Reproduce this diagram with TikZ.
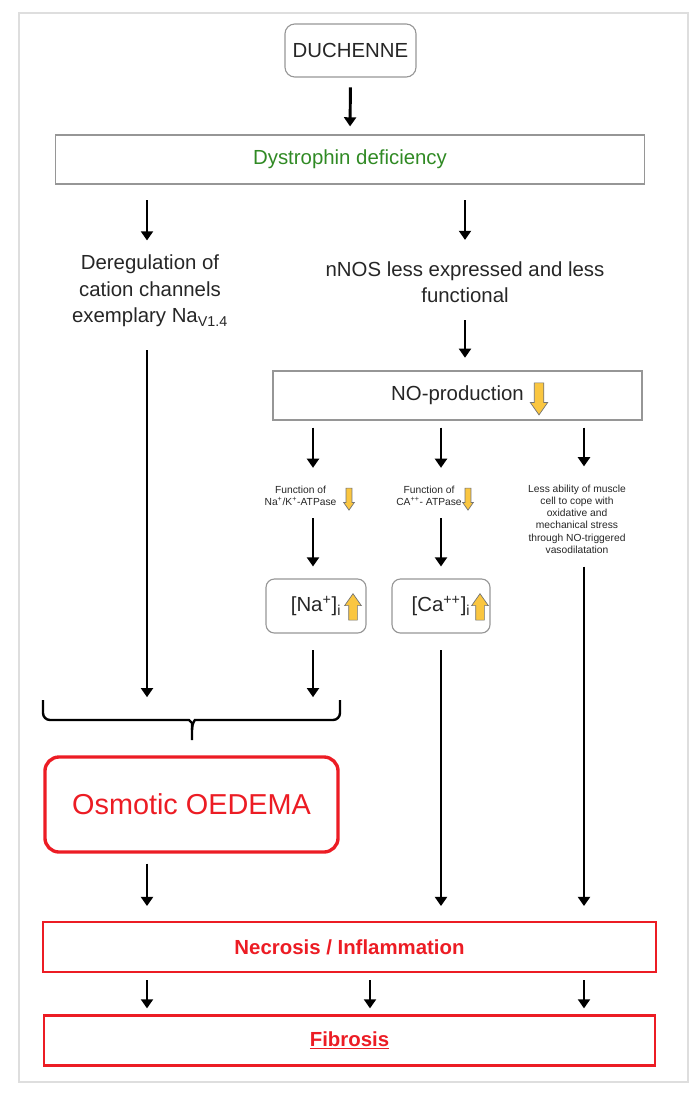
\documentclass[tikz,border=0pt]{standalone}
\usepackage{fontspec}
\setmainfont{Liberation Sans}
\usetikzlibrary{arrows.meta,shapes.arrows}

\definecolor{framegray}{RGB}{222,222,222}
\definecolor{boxgray}{RGB}{150,150,150}
\definecolor{dysgreen}{RGB}{48,138,36}
\definecolor{oedred}{RGB}{236,28,36}
\definecolor{arryellow}{RGB}{250,198,64}
\newcommand{\mainsize}{\fontsize{14.5}{19}\selectfont}
\newcommand{\smallsize}{\fontsize{7.3}{8.7}\selectfont}

\begin{document}
\begin{tikzpicture}[x=0.025cm, y=0.025cm]
\tikzstyle{every node}+=[inner sep=0pt, text=black!85]
\tikzstyle{greybox}=[draw=boxgray, line width=0.8pt]
\tikzstyle{redbox}=[draw=oedred, line width=1.5pt, text=oedred, minimum height=1.25cm]
\tikzstyle{arr}=[-{Triangle[width=8.5pt,length=6.5pt]}, line width=2.1pt]
\tikzstyle{bigdown}=[single arrow, draw=black!55, fill=arryellow, line width=0.5pt, shape border rotate=270, minimum height=0.8cm, inner ysep=0pt, inner xsep=0.11cm, single arrow head extend=0.1cm, single arrow tip angle=70]
\tikzstyle{bigup}=[bigdown, shape border rotate=90, minimum height=0.66cm, inner xsep=0.1cm]
\tikzstyle{smalldown}=[bigdown, minimum height=0.55cm, inner xsep=0.065cm, single arrow head extend=0.06cm]
\useasboundingbox (0,0) rectangle (697,-1099);
\draw [framegray, line width=0.8pt] (19,-13) rectangle (688,-1082);
\coordinate (c1) at (147,0);
\coordinate (c2) at (313,0);
\coordinate (c3) at (441,0);
\coordinate (c4) at (584,0);
\coordinate (c5) at (370,0);
\node [greybox, rounded corners=7pt, minimum width=3.275cm, minimum height=1.325cm, font=\mainsize] (duch) at (350.5,-50.5) {DUCHENNE};
\node [greybox, minimum width=14.7cm, minimum height=1.225cm, font=\mainsize, text=dysgreen] (dys) at (350,-159.5) {Dystrophin deficiency};
\node [font=\mainsize, align=center] (dereg) at (150,-291) {Deregulation of\\cation channels\\exemplary Na\textsubscript{V1.4}};
\node [font=\fontsize{14.5}{18.5}\selectfont, align=center] (nnos) at (465,-282.5) {nNOS less expressed and less\\functional};
\node [greybox, minimum width=9.225cm, minimum height=1.225cm, font=\mainsize] (noprod) at (457.5,-395.5) {NO-production};
\node [bigdown] (noarr) at (539,-395.5) {};
\node [font=\smallsize, align=center] (fnak) at (300.5,-496) {Function of\\Na\textsuperscript{+}/K\textsuperscript{+}-ATPase};
\node [smalldown] (nakarr) at (349,-497) {};
\node [font=\smallsize, align=center] (fca) at (429,-496) {Function of\\CA\textsuperscript{++}- ATPase};
\node [smalldown] (caarr) at (468,-497) {};
\node [font=\smallsize, align=center] (lessab) at (577,-519) {Less ability of muscle\\cell to cope with\\oxidative and\\mechanical stress\\through NO-triggered\\vasodilatation};
\node [greybox, rounded corners=6pt, minimum width=2.5cm, minimum height=1.35cm, font=\mainsize] (nabox) at (316,-606) {[Na\textsuperscript{+}]\textsubscript{i}\hspace{5mm}};
\node [bigup] (naup) at (353,-610) {};
\node [greybox, rounded corners=6pt, minimum width=2.45cm, minimum height=1.35cm, font=\mainsize] (cabox) at (441,-606) {[Ca\textsuperscript{++}]\textsubscript{i}\hspace{5mm}};
\node [bigup] (caup) at (480,-610) {};
\coordinate (brl) at (43,-700);
\coordinate (brr) at (340,-700);
\coordinate (brm) at (192,-740);
\draw [line width=1.7pt, rounded corners=5pt] (brl) -- (43,-720) -- (182,-720) .. controls (189,-720) and (192,-723) .. (192,-730) -- (brm);
\draw [line width=1.7pt, rounded corners=5pt] (brr) -- (340,-720) -- (202,-720) .. controls (195,-720) and (192,-723) .. (192,-730);
\node [draw=oedred, line width=2.4pt, rounded corners=10pt, minimum width=7.325cm, minimum height=2.375cm, text=oedred, font=\fontsize{20.5}{24}\selectfont] (osm) at (191.5,-804.5) {Osmotic OEDEMA};
\node [redbox, minimum width=15.325cm, font=\mainsize\bfseries] (necr) at (349.5,-947) {Necrosis / Inflammation};
\node [redbox, minimum width=15.25cm, font=\mainsize\bfseries] (fib) at (349.5,-1040.5) {\underline{Fibrosis}};
\draw [arr, shorten <=7pt, shorten >=5.7pt] (duch.south) -- (dys.north);
\draw [arr, shorten <=11pt, shorten >=10pt] (dys.south -| c1) -- (dereg.north -| c1);
\draw [arr, shorten <=11pt, shorten >=15.5pt] (dys.south -| nnos) -- (nnos.north);
\draw [arr, shorten <=12pt, shorten >=9pt] (nnos.south) -- (nnos.south |- noprod.north);
\draw [arr, shorten <=16pt, shorten >=2pt] (dereg.south -| c1) -- (brl -| c1);
\draw [arr, shorten <=5pt, shorten >=12.8pt] (noprod.south -| c2) -- (fnak.north -| c2);
\draw [arr, shorten <=5pt, shorten >=12.8pt] (noprod.south -| c3) -- (fca.north -| c3);
\draw [arr, shorten <=5pt, shorten >=12.8pt] (noprod.south -| c4) -- (lessab.north -| c4);
\draw [arr, shorten <=8.5pt, shorten >=8.5pt] (fnak.south -| c2) -- (nabox.north -| c2);
\draw [arr, shorten <=8.5pt, shorten >=8.5pt] (fca.south -| c3) -- (cabox.north -| c3);
\draw [arr, shorten <=12pt, shorten >=2pt] (nabox.south -| c2) -- (brr -| c2);
\draw [arr, shorten <=12pt, shorten >=10.6pt] (cabox.south -| c3) -- (necr.north -| c3);
\draw [arr, shorten <=9.2pt, shorten >=10.6pt] (lessab.south -| c4) -- (necr.north -| c4);
\draw [arr, shorten <=7pt, shorten >=10.6pt] (osm.south -| c1) -- (necr.north -| c1);
\draw [arr, shorten <=5pt, shorten >=4.3pt] (necr.south -| c1) -- (fib.north -| c1);
\draw [arr, shorten <=5pt, shorten >=4.3pt] (necr.south -| c5) -- (fib.north -| c5);
\draw [arr, shorten <=5pt, shorten >=4.3pt] (necr.south -| c4) -- (fib.north -| c4);
\end{tikzpicture}
\end{document}
